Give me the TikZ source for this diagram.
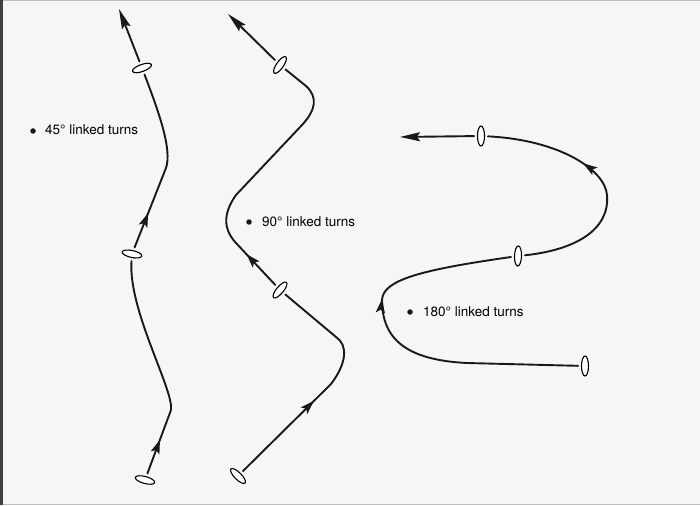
\documentclass[tikz,border=0pt]{standalone}
\usepackage{fontspec}
\setmainfont{TeX Gyre Heros}
\usetikzlibrary{arrows.meta,shapes.geometric,decorations.markings}

\begin{document}
\begin{tikzpicture}[x=1pt,y=1pt,
  ring/.style={draw, ellipse, fill=white, line width=1.1pt, minimum width=20pt, minimum height=7pt, inner sep=0pt, outer sep=3.5pt},
  trail/.style={line width=1.9pt, line cap=round, black!90},
  headtip/.style={-{Stealth[length=20pt,width=9pt,inset=3pt]}},
  midhead/.style={postaction={decorate}, decoration={markings, mark=at position #1 with {\arrow{Stealth[length=14pt,width=9pt,inset=3pt]}}}},
  caption/.style={anchor=base west, font=\fontsize{13.5}{15}\selectfont, inner sep=0pt},
  bullet/.style={circle, fill=black!90, inner sep=0pt, minimum size=5.5pt}
]
\fill[gray!7] (0,0) rectangle (700,-505);
\useasboundingbox (0,0) rectangle (700,-505);
\draw[gray!50, line width=1.5pt] (0,-0.75) -- (700,-0.75);
\draw[gray!50, line width=1.5pt] (0,-504.25) -- (700,-504.25);
\draw[black!75, line width=3pt] (1.5,0) -- (1.5,-505);

% 45 degree turns
\node[ring, rotate=-15] (a1) at (145,-480) {};
\node[ring, rotate=-12] (a2) at (132,-254) {};
\node[ring, rotate=20] (a3) at (142,-68) {};
\coordinate (a1b) at (171,-410);
\coordinate (a2b) at (166,-168);
\coordinate (a3b) at (119,-9);

\draw[trail, midhead=36pt] (a1) -- (a1b) .. controls (174,-390) and (128,-310) .. (a2);
\draw[trail, midhead=37pt] (a2) -- (a2b) .. controls (172,-150) and (160,-115) .. (a3);
\draw[trail, headtip] (a3) -- (a3b);

% 90 degree turns
\node[ring, rotate=-45] (b1) at (238,-476) {};
\node[ring, rotate=50] (b2) at (280,-290) {};
\node[ring, rotate=55] (b3) at (280,-65) {};
\coordinate (b1b) at (331,-384);
\coordinate (b2b) at (336,-337);
\coordinate (b2c) at (236,-243);
\coordinate (b3b) at (236,-195);
\coordinate (b3c) at (302,-125);
\coordinate (b3d) at (306,-86);
\coordinate (b3e) at (228,-14);

\draw[trail, midhead=100pt] (b1) -- (b1b) .. controls (347,-363) and (348,-345) .. (b2b) -- (b2);
\draw[trail, midhead=42pt] (b2) -- (b2c) .. controls (222,-228) and (224,-212) .. (b3b)
  -- (b3c) .. controls (316,-110) and (318,-97) .. (b3d) -- (b3);
\draw[trail, headtip] (b3) -- (b3e);

% 180 degree turns
\node[ring, rotate=90] (c1) at (585,-366) {};
\node[ring, rotate=88] (c2) at (518,-256) {};
\node[ring, rotate=90] (c3) at (481,-136) {};
\coordinate (c1b) at (467,-363);
\coordinate (c1c) at (382,-300);
\coordinate (c2b) at (607,-195);
\coordinate (c3b) at (400,-137);

\draw[trail, midhead=232pt] (c1) -- (c1b) .. controls (405,-360) and (382,-338) .. (c1c)
  .. controls (383,-280) and (420,-270) .. (c2);
\draw[trail, midhead=154pt] (c2) .. controls (575,-250) and (610,-230) .. (c2b)
  .. controls (605,-170) and (560,-140) .. (c3);
\draw[trail, headtip] (c3) -- (c3b);

% labels
\node[bullet] (d45) at (33,-131) {};
\node[caption] (l45) at (45,-135) {45° linked turns};
\node[bullet] (d90) at (249,-222) {};
\node[caption] (l90) at (262,-226) {90° linked turns};
\node[bullet] (d180) at (410,-312) {};
\node[caption] (l180) at (423,-316) {180° linked turns};
\end{tikzpicture}
\end{document}
